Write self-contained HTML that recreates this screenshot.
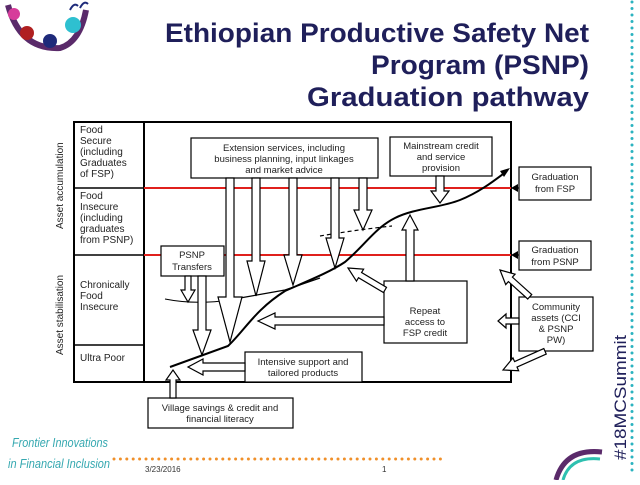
<!DOCTYPE html>
<html><head><meta charset="utf-8"><style>
body{margin:0;background:#fff;width:640px;height:480px;overflow:hidden}
svg text{font-family:"Liberation Sans",sans-serif}
</style></head><body>
<svg width="640" height="480" viewBox="0 0 640 480" xmlns="http://www.w3.org/2000/svg">
<!-- logo top-left -->
<g>
<path d="M8,5 Q20,50 60,48 Q80,42 86,10" fill="none" stroke="#5a2a6a" stroke-width="6"/>
<circle cx="14" cy="14" r="6" fill="#d63c9a"/>
<circle cx="27" cy="33" r="7" fill="#b02020"/>
<circle cx="50" cy="41" r="7" fill="#1e2a7a"/>
<circle cx="73" cy="25" r="8" fill="#2ec0d0"/>
<path d="M70,10 Q74,2 78,6 M80,8 Q84,0 88,4" stroke="#1e2a7a" fill="none" stroke-width="2"/>
</g>
<!-- title -->
<g font-weight="bold" fill="#1f1f5a" font-size="27" text-anchor="end">
<text x="589" y="42" textLength="424" lengthAdjust="spacingAndGlyphs">Ethiopian Productive Safety Net</text>
<text x="589" y="74" textLength="218" lengthAdjust="spacingAndGlyphs">Program (PSNP)</text>
<text x="589" y="106" textLength="282" lengthAdjust="spacingAndGlyphs">Graduation pathway</text>
</g>
<!-- right dotted line -->
<line x1="632" y1="2" x2="632" y2="472" stroke="#2bb3c0" stroke-width="3" stroke-dasharray="0 6.5" stroke-linecap="round"/>
<text transform="translate(626,460) rotate(-90)" font-size="17" fill="#1f1f5a" textLength="125" lengthAdjust="spacingAndGlyphs">#18MCSummit</text>
<!-- bottom -->
<line x1="114" y1="459" x2="442" y2="459" stroke="#f0902a" stroke-width="3" stroke-dasharray="0 6.4" stroke-linecap="round"/>
<text x="12" y="447" font-family="Liberation Serif" font-style="italic" font-size="13" fill="#35a8b0" textLength="96" lengthAdjust="spacingAndGlyphs">Frontier Innovations</text>
<text x="8" y="468" font-family="Liberation Serif" font-style="italic" font-size="13" fill="#35a8b0" textLength="102" lengthAdjust="spacingAndGlyphs">in Financial Inclusion</text>
<text x="145" y="472" font-size="8" fill="#333">3/23/2016</text>
<text x="382" y="472" font-size="8" fill="#333">1</text>
<path d="M556,480 Q565,448 602,452" fill="none" stroke="#5a2a6a" stroke-width="5"/>
<path d="M563,480 Q570,456 600,459" fill="none" stroke="#2ec0b0" stroke-width="3"/>

<!-- diagram frame -->
<g stroke="#000" fill="none">
<rect x="74" y="122" width="437" height="260" stroke-width="2"/>
<line x1="144" y1="122" x2="144" y2="382" stroke-width="2"/>
<line x1="74" y1="188" x2="144" y2="188" stroke-width="1.5"/>
<line x1="74" y1="255" x2="144" y2="255" stroke-width="1.5"/>
<line x1="74" y1="345" x2="144" y2="345" stroke-width="1.5"/>
</g>
<line x1="144" y1="188" x2="511" y2="188" stroke="#e0201c" stroke-width="2"/>
<line x1="144" y1="255" x2="511" y2="255" stroke="#e0201c" stroke-width="2"/>
<g font-size="10" fill="#222">
<text x="80" y="133">Food</text><text x="80" y="144">Secure</text><text x="80" y="155">(including</text><text x="80" y="166">Graduates</text><text x="80" y="177">of FSP)</text>
<text x="80" y="199">Food</text><text x="80" y="210">Insecure</text><text x="80" y="221">(including</text><text x="80" y="232">graduates</text><text x="80" y="243">from PSNP)</text>
<text x="80" y="288">Chronically</text><text x="80" y="299">Food</text><text x="80" y="310">Insecure</text>
<text x="80" y="361">Ultra Poor</text>
<text transform="translate(63,229) rotate(-90)">Asset accumulation</text>
<text transform="translate(63,355) rotate(-90)">Asset stabilisation</text>
</g>
<!-- curves -->
<g fill="none" stroke="#000">
<path d="M170,367 L228,346 C245,330 255,310 285,291 C310,280 330,272 345,262 C365,245 375,228 395,218 C415,208 440,208 460,200 C480,192 495,180 507,171" stroke-width="2"/>
<path d="M240,298 L285,290 L320,278" stroke-width="1.2"/>
<path d="M165,299 Q195,305 230,300" stroke-width="1"/>
<path d="M320,236 Q355,230 392,226" stroke-width="1.2" stroke-dasharray="4 3"/>
</g>
<polygon points="510,168 500,171 504,177" fill="#000"/>
<!-- boxes -->
<g fill="#fff" stroke="#000" stroke-width="1.2">
<rect x="191" y="138" width="187" height="40"/>
<rect x="390" y="137" width="102" height="39"/>
<rect x="161" y="246" width="63" height="30"/>
<rect x="384" y="281" width="83" height="62"/>
<rect x="245" y="352" width="117" height="30"/>
<rect x="148" y="398" width="145" height="30"/>
<rect x="519" y="167" width="72" height="33"/>
<rect x="519" y="241" width="72" height="29"/>
<rect x="519" y="297" width="74" height="54"/>
</g>
<!-- arrows -->
<g fill="#fff" stroke="#000" stroke-width="1.2">
<polygon points="226,178 234,178 234,297 242,297 230,342 218,297 226,297"/>
<polygon points="252,178 260,178 260,261 265,261 256,296 247,261 252,261"/>
<polygon points="289,178 297,178 297,255 302,255 293,285 284,255 289,255"/>
<polygon points="331,178 339,178 339,238 344,238 335,268 326,238 331,238"/>
<polygon points="359,178 367,178 367,210 372,210 363,230 354,210 359,210"/>
<polygon points="185,276 191,276 191,290 195,290 188,302 181,290 185,290"/>
<polygon points="198,276 206,276 206,330 211,330 202,355 193,330 198,330"/>
<polygon points="436,176 444,176 444,191 449,191 440,203 431,191 436,191"/>
<polygon points="406,281 414,281 414,230 418,230 410,215 402,230 406,230"/>
<polygon points="384,317 384,325 275,325 275,329 258,321 275,313 275,317"/>
<polygon points="245,363 245,371 203,371 203,375 188,367 203,359 203,363"/>
<polygon points="170,398 176,398 176,380 180,380 173,370 166,380 170,380"/>
<polygon points="519,318 519,324 506,324 506,328 498,321 506,314 506,318"/>
<polygon transform="translate(348,268) rotate(30.7)" points="0,0 14,-7 14,-3 43,-3 43,3 14,3 14,7"/>
<polygon transform="translate(500,270) rotate(42)" points="0,0 14,-7 14,-3 40,-3 40,3 14,3 14,7"/>
<polygon transform="translate(503,370) rotate(-24)" points="0,0 14,-7 14,-3 46,-3 46,3 14,3 14,7"/>
</g>
<g stroke="#000" stroke-width="1.2"><line x1="519" y1="188" x2="515" y2="188"/><line x1="519" y1="255" x2="515" y2="255"/></g>
<polygon points="511,188 518,184 518,192" fill="#000"/>
<polygon points="511,255 518,251 518,259" fill="#000"/>
<!-- box texts -->
<g font-size="9.5" fill="#222" text-anchor="middle">
<text x="284" y="151">Extension services, including</text>
<text x="284" y="162">business planning, input linkages</text>
<text x="284" y="173">and market advice</text>
<text x="441" y="149">Mainstream credit</text><text x="441" y="160">and service</text><text x="441" y="171">provision</text>
<text x="192" y="258">PSNP</text><text x="192" y="270">Transfers</text>
<text x="425" y="314">Repeat</text><text x="425" y="325">access to</text><text x="425" y="336">FSP credit</text>
<text x="303" y="365">Intensive support and</text><text x="303" y="376">tailored products</text>
<text x="220" y="411">Village savings &amp; credit and</text><text x="220" y="422">financial literacy</text>
<text x="555" y="180">Graduation</text><text x="555" y="192">from FSP</text>
<text x="555" y="253">Graduation</text><text x="555" y="265">from PSNP</text>
<text x="556" y="310">Community</text><text x="556" y="321">assets (CCI</text><text x="556" y="332">&amp; PSNP</text><text x="556" y="343">PW)</text>
</g>
</svg>
</body></html>
